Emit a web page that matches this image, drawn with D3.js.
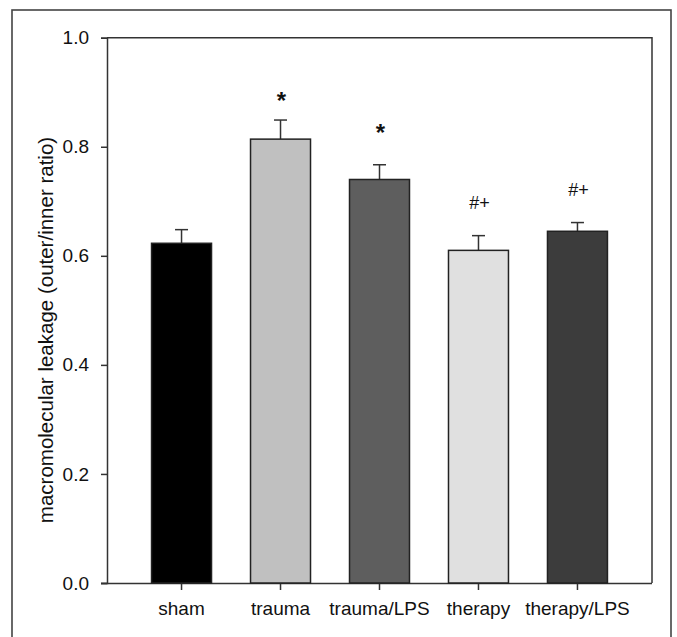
<!DOCTYPE html>
<html>
<head>
<meta charset="utf-8">
<script src="https://cdn.jsdelivr.net/npm/d3@7"></script>
<style>
html,body{margin:0;padding:0;background:#fff;}
svg{display:block;}
text{font-family:"Liberation Sans",Arial,sans-serif;fill:#111;}
</style>
</head>
<body>
<script>
const categories = ["sham","trauma","trauma/LPS","therapy","therapy/LPS"];
const values = [0.623, 0.814, 0.740, 0.610, 0.645];
const errors = [0.025, 0.035, 0.027, 0.027, 0.016];
const barColors = ["#000000","#c0c0c0","#5e5e5e","#e0e0e0","#3c3c3c"];
const sigLabels = ["", "*", "*", "#+", "#+"];
const sigLabelY = [0, 0.897, 0.838, 0.697, 0.722];
const yTicks = [0.0, 0.2, 0.4, 0.6, 0.8, 1.0];
const yTitle = "macromolecular leakage (outer/inner ratio)";

const W = 677, H = 637;
const mLeft = 107, mRight = 652, mTop = 37.7, mBottom = 583;

const svg = d3.select("body").append("svg").attr("width", W).attr("height", H);

// outer frame
svg.append("rect").attr("x", 12).attr("y", 10).attr("width", 659).attr("height", 660)
  .attr("fill", "none").attr("stroke", "#444").attr("stroke-width", 1.6);

const x = d3.scaleBand().domain(categories).range([mLeft, mRight])
  .paddingInner(0.394).paddingOuter(0.45);
const y = d3.scaleLinear().domain([0, 1]).range([mBottom, mTop]);

// plot frame (top & right)
svg.append("path")
  .attr("d", `M${mLeft},${mTop}H${mRight}V${mBottom}`)
  .attr("fill", "none").attr("stroke", "#333").attr("stroke-width", 1.5);

// y axis
const yAxis = svg.append("g").attr("transform", `translate(${mLeft},0)`)
  .call(d3.axisLeft(y).tickValues(yTicks).tickFormat(d3.format(".1f")).tickSizeOuter(0).tickSize(6).tickPadding(12));
yAxis.select(".domain").attr("stroke", "#333").attr("stroke-width", 1.5);
yAxis.selectAll(".tick line").attr("stroke", "#333").attr("stroke-width", 1.5);
yAxis.selectAll(".tick text").attr("font-size", 19).attr("font-family", "Liberation Sans, Arial, sans-serif").attr("fill", "#111");

// x axis
const xAxis = svg.append("g").attr("transform", `translate(0,${mBottom})`)
  .call(d3.axisBottom(x).tickSizeOuter(0).tickSize(7).tickPadding(12));
xAxis.select(".domain").attr("stroke", "#333").attr("stroke-width", 1.5)
  .attr("d", `M${mLeft - 6},0.5H${mRight}`);
xAxis.selectAll(".tick line").attr("stroke", "#333").attr("stroke-width", 1.5);
xAxis.selectAll(".tick text").attr("font-size", 19).attr("font-family", "Liberation Sans, Arial, sans-serif").attr("fill", "#111");

// y title
svg.append("text")
  .attr("transform", `translate(53,330) rotate(-90)`)
  .attr("text-anchor", "middle")
  .attr("font-size", 20.5)
  .text(yTitle);

const data = categories.map((c, i) => ({c, v: values[i], e: errors[i], col: barColors[i], s: sigLabels[i], sy: sigLabelY[i]}));

// error bars (upper only)
const eg = svg.append("g").attr("stroke", "#333").attr("stroke-width", 1.5);
data.forEach(d => {
  const cx = x(d.c) + x.bandwidth() / 2;
  eg.append("line").attr("x1", cx).attr("x2", cx).attr("y1", y(d.v)).attr("y2", y(d.v + d.e));
  eg.append("line").attr("x1", cx - 6.5).attr("x2", cx + 6.5).attr("y1", y(d.v + d.e)).attr("y2", y(d.v + d.e));
});

// bars
svg.append("g").selectAll("rect").data(data).join("rect")
  .attr("x", d => x(d.c))
  .attr("y", d => y(d.v))
  .attr("width", x.bandwidth())
  .attr("height", d => y(0) - y(d.v))
  .attr("fill", d => d.col)
  .attr("stroke", "#222")
  .attr("stroke-width", 1.5);

// significance labels
svg.append("g").selectAll("text").data(data.filter(d => d.s)).join("text")
  .attr("x", d => x(d.c) + x.bandwidth() / 2 + 1)
  .attr("y", d => y(d.sy))
  .attr("dy", d => d.s === "*" ? "0.62em" : "0.35em")
  .attr("text-anchor", "middle")
  .attr("font-size", d => d.s === "*" ? 24 : 18)
  .attr("font-weight", d => d.s === "*" ? "bold" : "normal")
  .text(d => d.s);
</script>
</body>
</html>
